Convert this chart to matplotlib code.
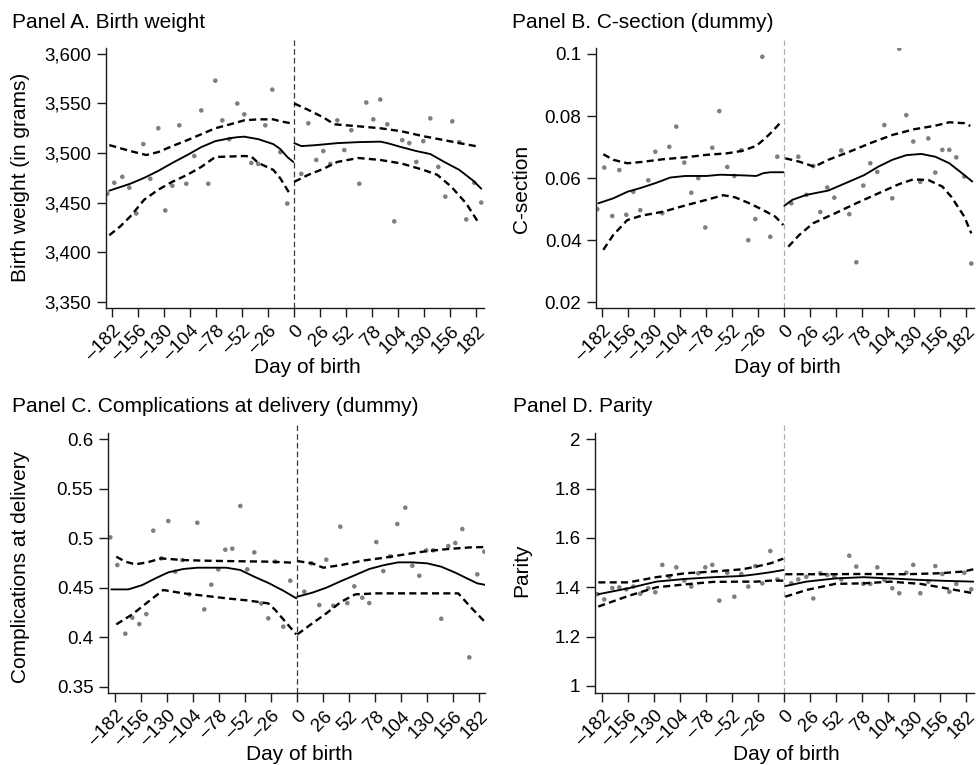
import matplotlib
matplotlib.use("Agg")
import matplotlib.pyplot as plt
import numpy as np

plt.rcParams['font.family'] = ['Liberation Sans', 'DejaVu Sans']

# ---------------------------------------------------------------------------
# Binned means (weekly bins) before and after the cutoff day
# ---------------------------------------------------------------------------
days_left = [-187, -180, -172, -165, -158, -151, -144, -136, -129, -122, -115, -108, -100,
             -93, -86, -79, -72, -65, -57, -50, -43, -36, -29, -22, -14, -7]
days_right = [7, 14, 22, 29, 36, 43, 50, 57, 65, 72, 79, 86, 93,
              100, 108, 115, 122, 129, 136, 144, 151, 158, 165, 172, 180, 187]

bw_left = [3459, 3470, 3476, 3465, 3439, 3509, 3474, 3525, 3442, 3467, 3528, 3469, 3497,
           3543, 3469, 3573, 3533, 3514, 3550, 3539, 3490, 3489, 3528, 3564, 3501, 3449]
bw_right = [3479, 3530, 3493, 3502, 3489, 3533, 3503, 3523, 3469, 3551, 3534, 3554, 3529,
            3431, 3513, 3510, 3491, 3512, 3535, 3486, 3456, 3532, 3511, 3433, 3470, 3450]

cs_left = [0.050, 0.0634, 0.0478, 0.0626, 0.0482, 0.0556, 0.0497, 0.0593, 0.0685, 0.0487,
           0.0701, 0.0766, 0.0650, 0.0553, 0.0600, 0.0441, 0.0698, 0.0816, 0.0636, 0.0607,
           0.0690, 0.0400, 0.0468, 0.0991, 0.0411, 0.0669]
cs_right = [0.0519, 0.0669, 0.0546, 0.0639, 0.0491, 0.0570, 0.0537, 0.0689, 0.0484, 0.0329,
            0.0576, 0.0648, 0.0620, 0.0771, 0.0535, 0.1017, 0.0803, 0.0718, 0.0588, 0.0728,
            0.0618, 0.0691, 0.0691, 0.0667, 0.0605, 0.0325]

cx_left = [0.5007, 0.4728, 0.4035, 0.4196, 0.4132, 0.4233, 0.5075, 0.4795, 0.5172, 0.4661,
           0.4778, 0.4432, 0.5155, 0.4280, 0.4530, 0.4684, 0.4883, 0.4893, 0.5324, 0.4684,
           0.4856, 0.4340, 0.4190, 0.4762, 0.4106, 0.4570]
cx_right = [0.4459, 0.4745, 0.4324, 0.4782, 0.4317, 0.5115, 0.4344, 0.4513, 0.4398, 0.4344,
            0.4960, 0.4667, 0.4816, 0.5142, 0.5307, 0.4721, 0.4620, 0.4876, 0.4876, 0.4186,
            0.4920, 0.4950, 0.5091, 0.3796, 0.4634, 0.4863]

par_left = [1.372, 1.351, 1.397, 1.400, 1.392, 1.403, 1.374, 1.396, 1.380, 1.491, 1.443,
            1.481, 1.427, 1.403, 1.457, 1.481, 1.491, 1.346, 1.459, 1.362, 1.454, 1.403,
            1.486, 1.416, 1.547, 1.432]
par_right = [1.416, 1.432, 1.443, 1.355, 1.457, 1.450, 1.443, 1.432, 1.528, 1.484, 1.414,
             1.414, 1.481, 1.430, 1.396, 1.376, 1.459, 1.491, 1.376, 1.423, 1.486, 1.454,
             1.382, 1.414, 1.459, 1.392]

# ---------------------------------------------------------------------------
# Local polynomial fits and 95% confidence bands (day, value)
# ---------------------------------------------------------------------------
bw_fit_l_day = [-185, -164, -150, -136, -122, -107, -93, -79, -64, -57, -50, -36, -21, -14, -7, -1]
bw_fit_l = [3462, 3469, 3475, 3482, 3490, 3498, 3506, 3512, 3515, 3516, 3516.5, 3514, 3509, 3504, 3496, 3491]
bw_hi_l_day = [-185, -164, -148, -136, -122, -107, -93, -79, -64, -50, -36, -21, -14, -3]
bw_hi_l = [3508, 3502, 3498, 3501, 3507, 3513, 3519, 3525, 3529, 3533, 3534, 3534, 3532, 3530]
bw_lo_l_day = [-185, -174, -164, -150, -136, -122, -107, -93, -79, -64, -50, -43, -36, -21, -14, -4]
bw_lo_l = [3417, 3426, 3436, 3453, 3463, 3471, 3478, 3486, 3496, 3496.5, 3497, 3496.5, 3490, 3483, 3474.5, 3458]
bw_fit_r_day = [0, 7, 22, 43, 64, 86, 93, 107, 122, 136, 150, 165, 179, 187]
bw_fit_r = [3510, 3507, 3508, 3510, 3511, 3511.5, 3510, 3506, 3502, 3499, 3491, 3483, 3472, 3464]
bw_hi_r_day = [0, 14, 29, 40, 64, 86, 107, 129, 150, 165, 184]
bw_hi_r = [3550, 3543.5, 3536, 3529, 3527, 3525, 3522, 3517, 3513, 3510, 3506.5]
bw_lo_r_day = [0, 14, 29, 43, 64, 86, 107, 129, 143, 157, 172, 184]
bw_lo_r = [3471, 3478, 3484, 3491, 3495, 3493, 3489.5, 3483, 3478, 3466, 3449, 3430]

cs_fit_l_day = [-186, -171, -157, -143, -128, -114, -99, -78, -64, -42, -28, -21, -14, -1]
cs_fit_l = [0.0519, 0.0535, 0.0556, 0.0569, 0.0585, 0.0602, 0.0607, 0.0607, 0.0611, 0.0609,
            0.0607, 0.0616, 0.0619, 0.0619]
cs_hi_l_day = [-181, -171, -157, -143, -121, -99, -78, -57, -42, -28, -21, -14, -2]
cs_hi_l = [0.0677, 0.0659, 0.0648, 0.0652, 0.0661, 0.0667, 0.0675, 0.0680, 0.0688, 0.0704,
           0.0723, 0.0744, 0.0785]
cs_lo_l_day = [-181, -171, -157, -143, -121, -99, -78, -61, -49, -35, -21, -9, -1]
cs_lo_l = [0.0369, 0.0417, 0.0465, 0.0479, 0.0492, 0.0512, 0.0530, 0.0545, 0.0538, 0.0519,
           0.0497, 0.0476, 0.0449]
cs_fit_r_day = [0, 8, 22, 44, 65, 80, 94, 108, 122, 137, 151, 165, 180, 188]
cs_fit_r = [0.0511, 0.0530, 0.0546, 0.0560, 0.0589, 0.0610, 0.0637, 0.0659, 0.0674, 0.0678,
            0.0669, 0.0648, 0.0610, 0.0589]
cs_hi_r_day = [1, 15, 30, 44, 65, 87, 108, 129, 151, 165, 180, 186]
cs_hi_r = [0.0664, 0.0653, 0.0637, 0.0659, 0.0685, 0.0714, 0.0739, 0.0757, 0.0769, 0.0780,
           0.0777, 0.0768]
cs_lo_r_day = [4, 15, 29, 51, 72, 94, 115, 129, 144, 158, 167, 180, 187]
cs_lo_r = [0.0379, 0.0417, 0.0455, 0.0487, 0.0519, 0.0551, 0.0581, 0.0596, 0.0594, 0.0573,
           0.0540, 0.0476, 0.0422]

cx_fit_l_day = [-186, -169, -155, -142, -129, -114, -100, -71, -57, -43, -28, -14, -1]
cx_fit_l = [0.4482, 0.4482, 0.4526, 0.4593, 0.4654, 0.4688, 0.4701, 0.4701, 0.4678, 0.4610,
            0.4543, 0.4469, 0.4392]
cx_hi_l_day = [-181, -172, -162, -150, -136, -114, -93, -71, -50, -28, -5]
cx_hi_l = [0.4812, 0.4762, 0.4735, 0.4755, 0.4795, 0.4778, 0.4772, 0.4768, 0.4765, 0.4762, 0.4752]
cx_lo_l_day = [-181, -165, -149, -134, -114, -93, -71, -50, -29, -22, -12, -1]
cx_lo_l = [0.4129, 0.4230, 0.4358, 0.4476, 0.4442, 0.4418, 0.4392, 0.4371, 0.4341, 0.4274,
           0.4156, 0.4028]
cx_fit_r_day = [0, 15, 29, 44, 58, 72, 87, 101, 115, 130, 144, 158, 173, 180, 189]
cx_fit_r = [0.4408, 0.4449, 0.4499, 0.4567, 0.4627, 0.4688, 0.4728, 0.4755, 0.4755, 0.4745,
            0.4711, 0.4651, 0.4577, 0.4543, 0.4526]
cx_hi_r_day = [0, 15, 26, 44, 65, 87, 108, 130, 151, 173, 189]
cx_hi_r = [0.4768, 0.4745, 0.4701, 0.4728, 0.4772, 0.4802, 0.4836, 0.4869, 0.4890, 0.4906, 0.4910]
cx_lo_r_day = [0, 15, 29, 44, 58, 79, 161, 173, 189]
cx_lo_r = [0.4028, 0.4139, 0.4240, 0.4358, 0.4432, 0.4442, 0.4442, 0.4307, 0.4139]

par_l_day = [-186, -156, -128, -99, -71, -42, -28, -14, -1]
par_fit_l = [1.372, 1.396, 1.423, 1.434, 1.441, 1.446, 1.453, 1.461, 1.470]
par_hi_l = [1.420, 1.420, 1.441, 1.457, 1.464, 1.473, 1.484, 1.497, 1.516]
par_lo_l = [1.322, 1.365, 1.400, 1.412, 1.422, 1.423, 1.423, 1.427, 1.427]
par_r_day = [1, 22, 51, 79, 106, 136, 162, 189]
par_fit_r = [1.405, 1.423, 1.436, 1.441, 1.436, 1.430, 1.426, 1.423]
par_lo_r = [1.362, 1.389, 1.414, 1.416, 1.423, 1.414, 1.396, 1.376]
par_hi_r_day = [1, 39, 79, 122, 156, 179, 189]
par_hi_r = [1.453, 1.453, 1.454, 1.453, 1.457, 1.464, 1.473]

# ---------------------------------------------------------------------------
# Axis ticks and labels
# ---------------------------------------------------------------------------
x_ticks = [-182, -156, -130, -104, -78, -52, -26, 0, 26, 52, 78, 104, 130, 156, 182]
x_tick_labels = [("\u2013" + str(-t)) if t < 0 else str(t) for t in x_ticks]

bw_yticks = [3350, 3400, 3450, 3500, 3550, 3600]
cs_yticks = [0.02, 0.04, 0.06, 0.08, 0.1]
cx_yticks = [0.35, 0.4, 0.45, 0.5, 0.55, 0.6]
par_yticks = [1, 1.2, 1.4, 1.6, 1.8, 2]

W, H = 979, 765
fig = plt.figure(figsize=(W / 100, H / 100), dpi=100)

DOT = '#7f7f7f'
TICK_FS = 13.5
LABEL_FS = 15


def make_axes(left, top, right, bottom):
    return fig.add_axes([left / W, 1 - bottom / H, (right - left) / W, (bottom - top) / H])


def style_axes(ax, xlim, ylim, yticks, ylabels):
    ax.set_xlim(*xlim)
    ax.set_ylim(*ylim)
    for s in ('top', 'right'):
        ax.spines[s].set_visible(False)
    for s in ('left', 'bottom'):
        ax.spines[s].set_linewidth(1.0)
        ax.spines[s].set_color('#1a1a1a')
    ax.tick_params(direction='out', length=6.5, width=1.0, color='#1a1a1a',
                   labelsize=TICK_FS, pad=4)
    ax.set_xticks(x_ticks)
    ax.set_xticklabels(x_tick_labels, rotation=45, ha='right', va='top',
                       rotation_mode='anchor')
    ax.set_yticks(yticks)
    ax.set_yticklabels(ylabels)
    ax.patch.set_alpha(0)


def draw_panel(ax, cut_color, pts, curves):
    ax.axvline(0, ymin=0, ymax=1.03, clip_on=False, color=cut_color, lw=0.9,
               dashes=(4.5, 2.5), zorder=1)
    for d, v in pts:
        ax.scatter(d, v, s=11, color=DOT, edgecolors='none', zorder=2)
    for d, v, kind in curves:
        if kind == 'fit':
            ax.plot(d, v, color='black', lw=1.35, solid_capstyle='round', zorder=3)
        else:
            ax.plot(d, v, color='black', lw=1.7, dashes=(3.0, 1.8), zorder=3)


# Panel A
axA = make_axes(106, 48, 484, 308)
style_axes(axA, (-188.3, 189.7), (3343.6, 3606), bw_yticks, [f"{v:,}" for v in bw_yticks])
draw_panel(axA, '#3a3a3a',
           [(days_left, bw_left), (days_right, bw_right)],
           [(bw_fit_l_day, bw_fit_l, 'fit'), (bw_hi_l_day, bw_hi_l, 'ci'), (bw_lo_l_day, bw_lo_l, 'ci'),
            (bw_fit_r_day, bw_fit_r, 'fit'), (bw_hi_r_day, bw_hi_r, 'ci'), (bw_lo_r_day, bw_lo_r, 'ci')])

# Panel B
axB = make_axes(596, 48, 974, 308)
style_axes(axB, (-188.3, 189.7), (0.01816, 0.10193), cs_yticks, [f"{v:g}" for v in cs_yticks])
draw_panel(axB, '#b0b0b0',
           [(days_left, cs_left), (days_right, cs_right)],
           [(cs_fit_l_day, cs_fit_l, 'fit'), (cs_hi_l_day, cs_hi_l, 'ci'), (cs_lo_l_day, cs_lo_l, 'ci'),
            (cs_fit_r_day, cs_fit_r, 'fit'), (cs_hi_r_day, cs_hi_r, 'ci'), (cs_lo_r_day, cs_lo_r, 'ci')])

# Panel C
axC = make_axes(108, 433, 485, 693)
style_axes(axC, (-189.3, 187.7), (0.34364, 0.60606), cx_yticks, [f"{v:g}" for v in cx_yticks])
draw_panel(axC, '#3a3a3a',
           [(days_left, cx_left), (days_right, cx_right)],
           [(cx_fit_l_day, cx_fit_l, 'fit'), (cx_hi_l_day, cx_hi_l, 'ci'), (cx_lo_l_day, cx_lo_l, 'ci'),
            (cx_fit_r_day, cx_fit_r, 'fit'), (cx_hi_r_day, cx_hi_r, 'ci'), (cx_lo_r_day, cx_lo_r, 'ci')])

# Panel D
axD = make_axes(595, 433, 974, 693)
style_axes(axD, (-189.3, 189.7), (0.9716, 2.0255), par_yticks, [f"{v:g}" for v in par_yticks])
draw_panel(axD, '#b0b0b0',
           [(days_left, par_left), (days_right, par_right)],
           [(par_l_day, par_fit_l, 'fit'), (par_l_day, par_hi_l, 'ci'), (par_l_day, par_lo_l, 'ci'),
            (par_r_day, par_fit_r, 'fit'), (par_hi_r_day, par_hi_r, 'ci'), (par_r_day, par_lo_r, 'ci')])


def ftext(x, y, s, **kw):
    fig.text(x / W, 1 - y / H, s, **kw)


# Panel titles
ftext(12, 27.5, "Panel A. Birth weight", fontsize=LABEL_FS, va='baseline', ha='left')
ftext(512, 27.5, "Panel B. C-section (dummy)", fontsize=LABEL_FS, va='baseline', ha='left')
ftext(12, 412, "Panel C. Complications at delivery (dummy)", fontsize=LABEL_FS, va='baseline', ha='left')
ftext(513, 412, "Panel D. Parity", fontsize=LABEL_FS, va='baseline', ha='left')

# Axis titles
ftext(307, 373, "Day of birth", fontsize=LABEL_FS, va='baseline', ha='center')
ftext(787, 373, "Day of birth", fontsize=LABEL_FS, va='baseline', ha='center')
ftext(299, 760, "Day of birth", fontsize=LABEL_FS, va='baseline', ha='center')
ftext(786, 760, "Day of birth", fontsize=LABEL_FS, va='baseline', ha='center')

ftext(21, 177, "Birth weight (in grams)", fontsize=LABEL_FS, rotation=90, va='center', ha='center')
ftext(522, 189, "C-section", fontsize=LABEL_FS, rotation=90, va='center', ha='center')
ftext(21, 567, "Complications at delivery", fontsize=LABEL_FS, rotation=90, va='center', ha='center')
ftext(522, 570, "Parity", fontsize=LABEL_FS, rotation=90, va='center', ha='center')

fig.savefig("out.png", dpi=100, facecolor='white')
